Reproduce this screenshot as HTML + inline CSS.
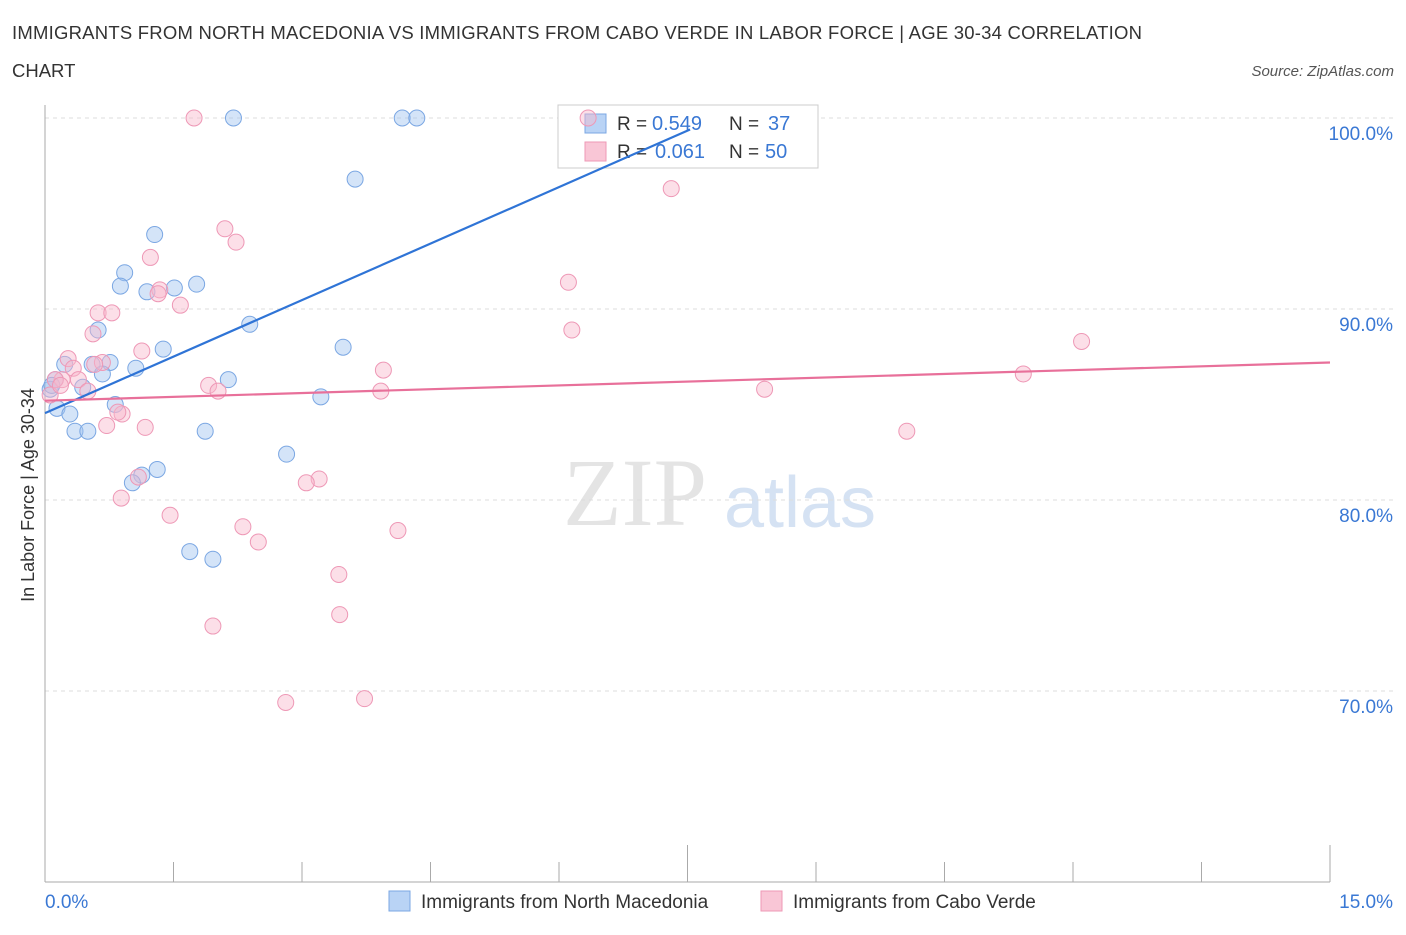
<!DOCTYPE html>
<html><head><meta charset="utf-8"><style>
body{margin:0;background:#fff;font-family:"Liberation Sans",sans-serif}
</style></head><body>
<svg id="c" width="1406" height="930" font-family="Liberation Sans, sans-serif">
<text x="12" y="39" font-size="18.5" fill="#333" textLength="1130">IMMIGRANTS FROM NORTH MACEDONIA VS IMMIGRANTS FROM CABO VERDE IN LABOR FORCE | AGE 30-34 CORRELATION</text>
<text x="12" y="77" font-size="18.5" fill="#333">CHART</text>
<text x="1394" y="76" font-size="15" fill="#555" font-style="italic" text-anchor="end">Source: ZipAtlas.com</text>
<text x="635" y="525" font-size="96" fill="#e4e4e4" font-family="Liberation Serif, serif" text-anchor="middle">ZIP</text>
<text x="800" y="527" font-size="72" fill="#d5e2f3" text-anchor="middle">atlas</text>
<text transform="translate(34,495) rotate(-90)" font-size="18" fill="#333" text-anchor="middle">In Labor Force | Age 30-34</text>
<g id="grid"></g>
<g>
<rect x="558" y="105" width="260" height="63" fill="#fff" stroke="#ccc"/>
<rect x="585" y="114" width="21" height="19" fill="#b9d3f5" stroke="#7ba7e3"/>
<rect x="585" y="142" width="21" height="19" fill="#f9c6d6" stroke="#ee98b6"/>
<text x="617" y="130" font-size="19" fill="#333">R =</text>
<text x="652" y="130" font-size="20" fill="#3a78d4">0.549</text>
<text x="729" y="130" font-size="19" fill="#333">N =</text>
<text x="768" y="130" font-size="20" fill="#3a78d4">37</text>
<text x="617" y="158" font-size="19" fill="#333">R =</text>
<text x="655" y="158" font-size="20" fill="#3a78d4">0.061</text>
<text x="729" y="158" font-size="19" fill="#333">N =</text>
<text x="765" y="158" font-size="20" fill="#3a78d4">50</text>
</g>
<g id="pts"></g><g id="lines"></g>
<g>
<rect x="389" y="891" width="21" height="20" fill="#b9d3f5" stroke="#7ba7e3"/>
<text x="421" y="908" font-size="19" fill="#333">Immigrants from North Macedonia</text>
<rect x="761" y="891" width="21" height="20" fill="#f9c6d6" stroke="#ee98b6"/>
<text x="793" y="908" font-size="19" fill="#333">Immigrants from Cabo Verde</text>
</g>
</svg>
<script>
const yTicks=[100,90,80,70];
const xTickLabels=["0.0%","15.0%"];
const blueX=[2.2,4.17,4.34,3.62,1.28,0.93,0.88,1.19,1.51,1.77,2.39,0.62,1.38,3.48,0.76,0.55,1.06,0.67,2.14,0.23,0.12,0.06,0.44,0.14,0.29,0.82,3.22,0.35,0.5,1.87,2.82,1.31,1.13,1.02,1.69,1.96,0.08];
const blueY=[100,100,100,96.8,93.9,91.9,91.2,90.9,91.1,91.3,89.2,88.9,87.9,88.0,87.2,87.1,86.9,86.6,86.3,87.1,86.3,85.8,85.9,84.8,84.5,85.0,85.4,83.6,83.6,83.6,82.4,81.6,81.3,80.9,77.3,76.9,86.0];
const pinkX=[1.74,6.34,7.31,2.1,2.23,1.23,6.11,1.34,1.32,1.58,0.62,0.78,6.15,0.56,12.1,1.13,0.27,0.67,0.33,3.95,0.2,0.39,11.42,1.91,2.02,3.92,8.4,0.5,0.9,0.85,0.72,1.17,10.06,3.2,3.05,1.09,0.89,1.46,2.31,4.12,2.49,3.43,1.96,3.44,2.81,3.73,0.12,0.06,0.18,0.58];
const pinkY=[100,100,96.3,94.2,93.5,92.7,91.4,91.0,90.8,90.2,89.8,89.8,88.9,88.7,88.3,87.8,87.4,87.2,86.9,86.8,86.3,86.3,86.6,86.0,85.7,85.7,85.8,85.7,84.5,84.6,83.9,83.8,83.6,81.1,80.9,81.2,80.1,79.2,78.6,78.4,77.8,76.1,73.4,74.0,69.4,69.6,86.3,85.5,86.0,87.1];
const blueLine=[0,84.55,7.53,99.4];
const pinkLine=[0,85.2,15,87.2];
const NS="http://www.w3.org/2000/svg";
const X0=45,X1=1330;
function sx(v){return X0+(v/15)*(X1-X0);}
function sy(v){return 118+(100-v)/10*191;}
function mk(t,a,p){const e=document.createElementNS(NS,t);for(const k in a)e.setAttribute(k,a[k]);document.getElementById(p).appendChild(e);return e;}
yTicks.forEach(t=>{
  const l=mk('line',{x1:X0,x2:1395,y1:sy(t),y2:sy(t),stroke:'#ddd','stroke-dasharray':'4,4'},'grid');
  
  
  const tx=mk('text',{x:1393,y:sy(t)+22,'font-size':19,fill:'#3a78d4','text-anchor':'end'},'grid');
  tx.textContent=t.toFixed(1)+'%';
  
  
});
mk('line',{x1:X0,x2:X0,y1:105,y2:882,stroke:'#aaa'},'grid');
mk('line',{x1:X0,x2:X1,y1:882,y2:882,stroke:'#aaa'},'grid');
for(let i=0;i<=10;i++){const x=X0+i*(X1-X0)/10;const l=mk('line',{x1:x,x2:x,y1:i==5||i==10?845:862,y2:882,stroke:'#aaa'},'grid');
  
  }
const xl=mk('text',{x:45,y:908,'font-size':19,fill:'#3a78d4'},'grid');xl.textContent=xTickLabels[0];


const xr=mk('text',{x:1393,y:908,'font-size':19,fill:'#3a78d4','text-anchor':'end'},'grid');xr.textContent=xTickLabels[1];


blueX.forEach((v,i)=>{const c=mk('circle',{cx:sx(v),cy:sy(blueY[i]),r:8,fill:'rgba(160,195,240,0.45)',stroke:'#7ba7e3','stroke-width':1},'pts');
  
  });
pinkX.forEach((v,i)=>{const c=mk('circle',{cx:sx(v),cy:sy(pinkY[i]),r:8,fill:'rgba(248,185,205,0.45)',stroke:'#ee98b6','stroke-width':1},'pts');
  
  });
const bl=mk('line',{x1:sx(blueLine[0]),y1:sy(blueLine[1]),x2:sx(blueLine[2]),y2:sy(blueLine[3]),stroke:'#2f74d6','stroke-width':2.2},'lines');


const pl=mk('line',{x1:sx(pinkLine[0]),y1:sy(pinkLine[1]),x2:sx(pinkLine[2]),y2:sy(pinkLine[3]),stroke:'#e8709a','stroke-width':2.2},'lines');


</script>
</body></html>
